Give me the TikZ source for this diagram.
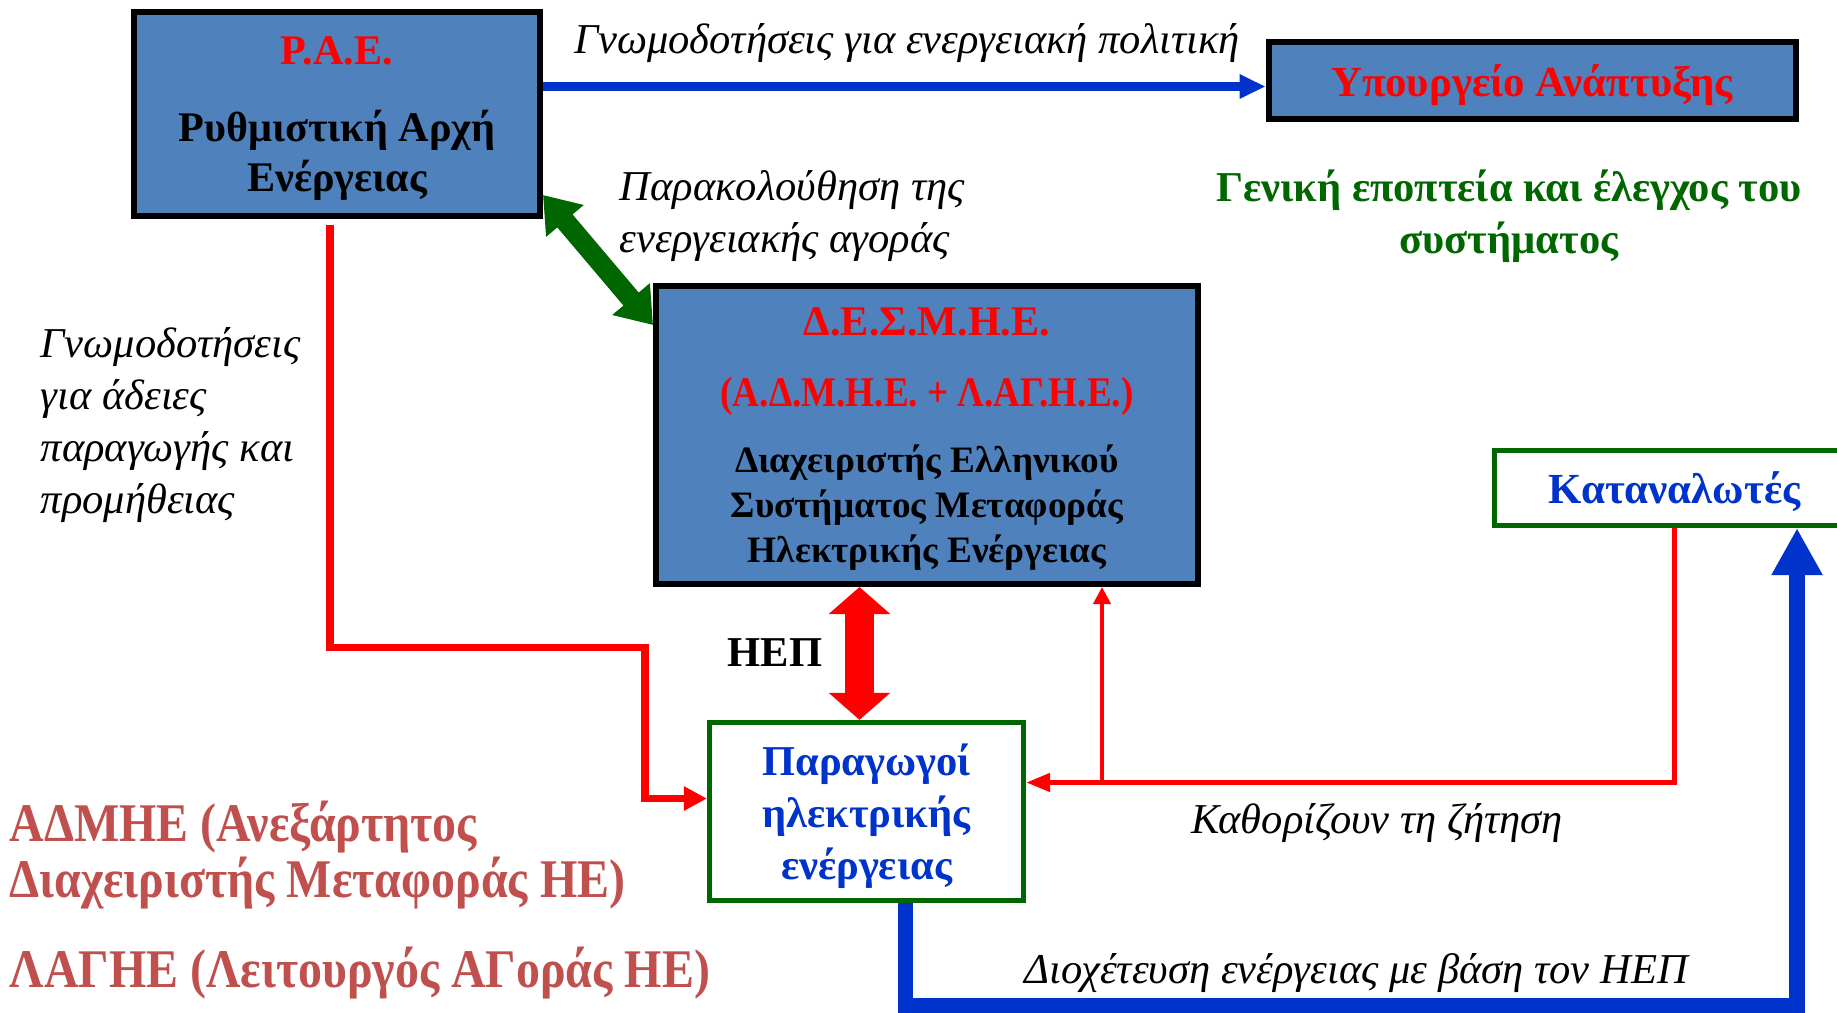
\documentclass[tikz,border=0pt]{standalone}
\usepackage{fontspec}
\setmainfont{Liberation Serif}
\newfontfamily\narrowserif[FakeStretch=0.88]{Liberation Serif}
\usepackage{tikz}
\usetikzlibrary{arrows.meta}

\definecolor{boxblue}{RGB}{79,129,189}
\definecolor{darkgreen}{RGB}{0,102,0}
\definecolor{lineblue}{RGB}{0,51,204}
\definecolor{brickred}{RGB}{192,80,77}

\tikzset{
  bluebox/.style={draw=black, line width=1.7pt, fill=boxblue, inner sep=0pt, align=center, text depth=0pt},
  greenbox/.style={draw=darkgreen, line width=1.5pt, fill=white, inner sep=0pt, align=center, text depth=0pt,
    text=lineblue, font=\bfseries\fontsize{12.1}{14.8}\selectfont},
  note/.style={inner sep=0pt, font=\itshape\fontsize{12.1}{14.8}\selectfont},
  boldnote/.style={inner sep=0pt, font=\bfseries\fontsize{12.1}{14.8}\selectfont},
  bignote/.style={inner sep=0pt, align=left, text=brickred,
    font=\narrowserif\bfseries\fontsize{15.5}{16}\selectfont},
  policyline/.style={draw=lineblue, line width=2.3pt, -{Triangle[width=0.23cm,length=0.26cm]}},
  watchline/.style={draw=darkgreen, line width=5.7pt,
    {Triangle[width=0.47cm,length=0.34cm]}-{Triangle[width=0.47cm,length=0.34cm]}},
  hepline/.style={draw=red, line width=8pt,
    {Triangle[width=0.60cm,length=0.27cm]}-{Triangle[width=0.60cm,length=0.27cm]}},
  licline/.style={draw=red, line width=2pt, -{Triangle[width=0.23cm,length=0.23cm]}},
  demandline/.style={draw=red, line width=1.4pt, -{Triangle[width=0.18cm,length=0.24cm]}},
  thinred/.style={draw=red, line width=1.1pt, -{Triangle[width=0.17cm,length=0.17cm]}},
  supplyline/.style={draw=lineblue, line width=4.3pt, -{Triangle[width=0.48cm,length=0.47cm]}}
}

\begin{document}
\begin{tikzpicture}
\useasboundingbox (0,0) rectangle (18.37,10.12);

% boxes
\node[bluebox, minimum width=4.06cm, minimum height=2.04cm,
  font=\bfseries\fontsize{12}{14.2}\selectfont] (pae) at (3.37,8.98)
  {\textcolor{red}{Ρ.Α.Ε.}\\[7.5pt]Ρυθμιστική Αρχή\\Ενέργειας};
\node[bluebox, minimum width=5.27cm, minimum height=0.77cm,
  font=\bfseries\fontsize{12.2}{15}\selectfont, text=red] (ministry) at (15.32,9.315)
  {Υπουργείο Ανάπτυξης};
\node[bluebox, minimum width=5.42cm, minimum height=2.98cm,
  font=\bfseries\fontsize{10.6}{12.8}\selectfont] (desmhe) at (9.27,5.77)
  {\textcolor{red}{\fontsize{12}{15}\selectfont Δ.Ε.Σ.Μ.Η.Ε.}\\[7.5pt]
   \textcolor{red}{\narrowserif\fontsize{12}{15}\selectfont (Α.Δ.Μ.Η.Ε. + Λ.ΑΓ.Η.Ε.)}\\[6pt]
   Διαχειριστής Ελληνικού\\Συστήματος Μεταφοράς\\Ηλεκτρικής Ενέργειας};
\node[greenbox, minimum width=3.14cm, minimum height=1.78cm] (prod) at (8.665,2.005)
  {Παραγωγοί\\ηλεκτρικής\\ενέργειας};
\node[greenbox, minimum width=3.6cm, minimum height=0.75cm,
  font=\bfseries\fontsize{12.2}{15}\selectfont] (cons) at (16.745,5.24) {Καταναλωτές};

% bends of the connectors
\coordinate (licjog) at (6.45,3.65);
\coordinate (split) at (11.02,2.30);
\coordinate (feed) at (17.97,0.06);
\coordinate (heptop) at ([xshift=-0.07cm]prod.north);
\coordinate (policy) at ([yshift=-0.06cm]ministry.west);

%-------------------------------------
\draw[policyline] (pae.east |- policy) -- (policy);
\draw[watchline] ([yshift=0.24cm]pae.south east) -- ([yshift=-0.42cm]desmhe.north west);
\draw[licline, shorten <=0.06cm] ([xshift=-0.07cm]pae.south) |- (licjog) |- ([yshift=0.13cm]prod.west);
\draw[hepline] (heptop) -- (heptop |- desmhe.south);
\draw[demandline] (cons.south) |- ([yshift=0.29cm]prod.east);
\draw[thinred] (split) -- (split |- desmhe.south);
\draw[supplyline] ([xshift=0.39cm]prod.south) |- (feed) -- (feed |- cons.south);

% labels
\node[note] (policylbl) at (9.07,9.69) {Γνωμοδοτήσεις για ενεργειακή πολιτική};
\node[note, anchor=west, align=left] (watchlbl) at (6.19,7.96)
  {Παρακολούθηση της\\ενεργειακής αγοράς};
\node[boldnote, align=center, text=darkgreen] (supervlbl) at (15.09,7.96)
  {Γενική εποπτεία και έλεγχος του\\συστήματος};
\node[note, anchor=west, align=left] (liclbl) at (0.40,5.87)
  {Γνωμοδοτήσεις\\για άδειες\\παραγωγής και\\προμήθειας};
\node[boldnote] (hep) at (7.75,3.59) {ΗΕΠ};
\node[note] (demandlbl) at (13.77,1.89) {Καθορίζουν τη ζήτηση};
\node[note] (feedlbl) at (13.56,0.39) {Διοχέτευση ενέργειας με βάση τον ΗΕΠ};

%-------------------------------------
\node[bignote, anchor=west] (admhe) at (0.09,1.57)
  {ΑΔΜΗΕ (Ανεξάρτητος\\Διαχειριστής Μεταφοράς ΗΕ)};
\node[bignote, anchor=west] (lagie) at (0.09,0.39) {ΛΑΓΗΕ (Λειτουργός ΑΓοράς ΗΕ)};
\end{tikzpicture}
\end{document}
